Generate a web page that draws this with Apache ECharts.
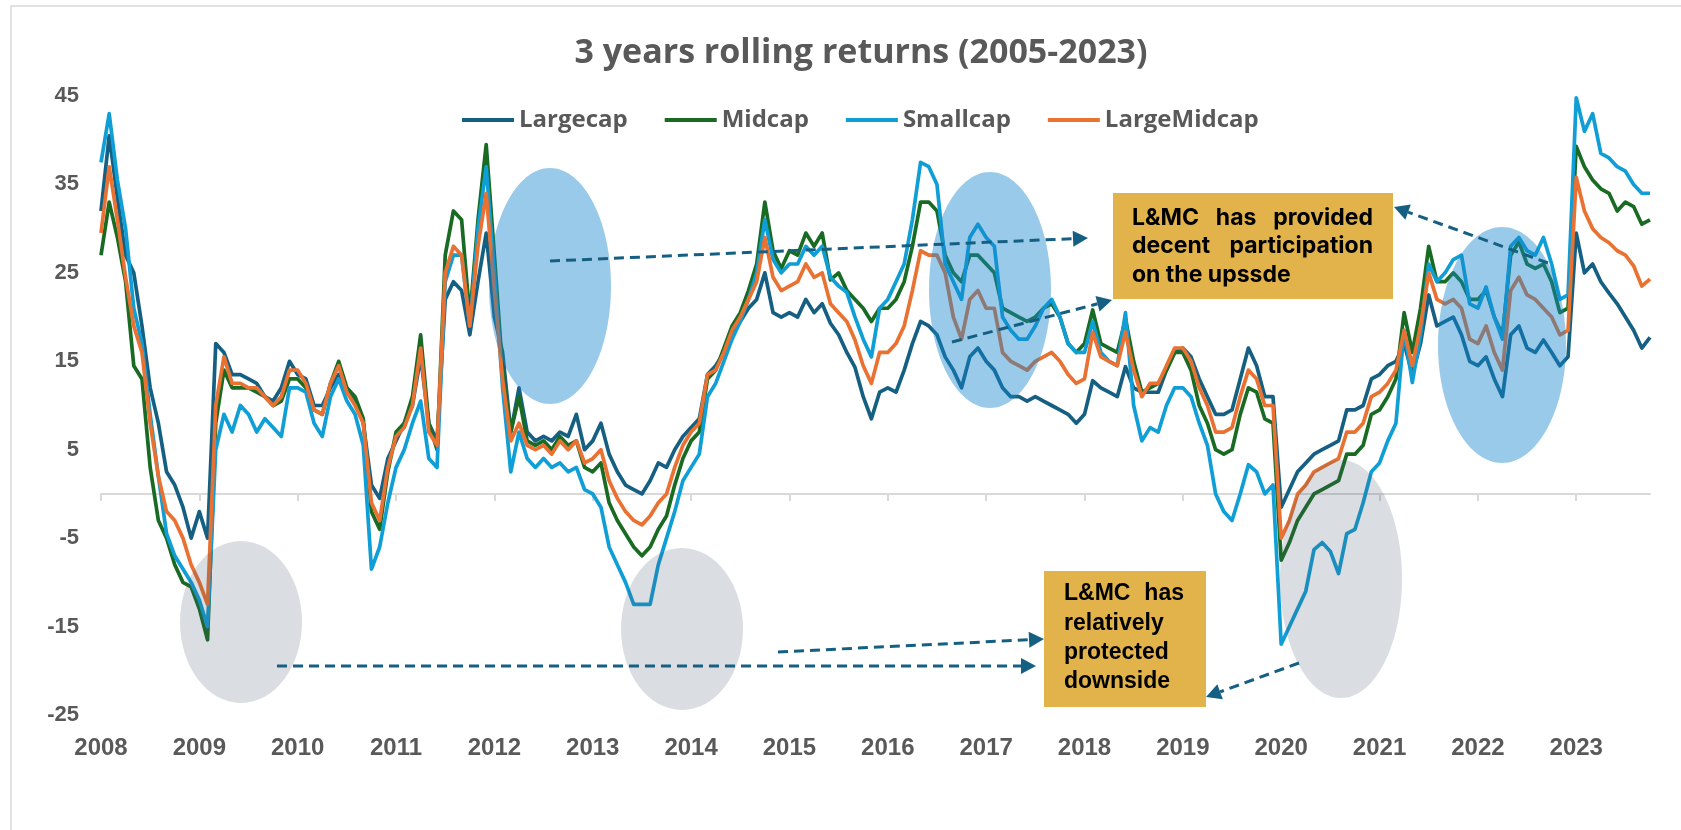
<!DOCTYPE html>
<html>
<head>
<meta charset="utf-8">
<title>3 years rolling returns</title>
<script src="https://cdn.jsdelivr.net/npm/echarts@6/dist/echarts.min.js"></script>
<style>
  html, body { margin: 0; padding: 0; background: #fff; }
  #chart { width: 1681px; height: 830px; }
</style>
</head>
<body>
<div id="chart"></div>
<script>
// monthly points, Jan 2008 .. Oct 2023
const months = [];
for (let y = 2008; y <= 2023; y++) {
  for (let m = 1; m <= 12; m++) {
    if (y === 2023 && m > 10) break;
    months.push(y + '-' + String(m).padStart(2, '0'));
  }
}

const seriesNames = ['Largecap', 'Midcap', 'Smallcap', 'LargeMidcap'];
const seriesColors = ['#156082', '#196B24', '#0F9ED5', '#E97132'];

// 3y rolling return (%), one row per year
const largecap = [
  32, 40.5, 33.5, 27, 25, 19, 12, 8, 2.5, 1, -1.5, -5,
  -2, -5, 17, 16, 13.5, 13.5, 13, 12.5, 11, 10.5, 12, 15,
  13.5, 13, 10, 10, 12, 13.5, 11.5, 10.5, 8, 1, -0.5, 4,
  6, 8, 10, 15.5, 8, 6, 22, 24, 23, 18, 24, 29.5,
  20, 16, 7, 12, 7, 6, 6.5, 6, 7, 6.5, 9, 5,
  6, 8, 4.5, 2.5, 1, 0.5, 0, 1.5, 3.5, 3, 5, 6.5,
  7.5, 8.5, 13.5, 14.5, 16, 18, 19.5, 21, 22, 25, 20.5, 20,
  20.5, 20, 22, 20.5, 21.5, 19.3, 18, 16, 14.3, 11, 8.5, 11.5,
  12, 11.5, 14, 17, 19.5, 19, 18, 15.5, 14, 12, 15.5, 16.5,
  15, 14, 12, 11, 11, 10.5, 11, 10.5, 10, 9.5, 9, 8,
  9, 12.8, 12, 11.5, 11, 14.4, 12, 11.5, 11.5, 11.5, 14, 16,
  16.5, 15.5, 13, 11, 9, 9, 9.5, 13, 16.5, 14.5, 11, 11,
  -1.5, 0.5, 2.5, 3.5, 4.5, 5, 5.5, 6, 9.5, 9.5, 10, 13,
  13.5, 14.5, 15, 17, 13.5, 17, 22.5, 19, 19.5, 20, 18, 15,
  14.5, 15.5, 13, 11, 18, 19, 16.5, 16, 17.4, 16, 14.5, 15.5,
  29.5, 25, 26, 24, 22.7, 21.5, 20, 18.5, 16.5, 17.7
];
const midcap = [
  27, 33, 29, 24, 14.5, 13, 3, -3, -5, -8, -10, -10.5,
  -13, -16.5, 8, 14, 12, 12, 12, 11.5, 11, 10, 10.5, 13,
  13, 12, 9.5, 9, 12.5, 15, 12, 11, 8.5, -2, -4, 2.5,
  7, 8, 11, 18, 8, 5, 27, 32, 31, 20, 31, 39.5,
  27, 14, 7, 11, 6, 5.5, 6, 5, 6.5, 5.5, 6, 3,
  2.5, 3.5, -1, -3, -4.5, -6, -7, -6, -4, -2.5, 1, 4,
  6, 7, 13, 14, 16.5, 19, 20.5, 23, 26, 33, 27.5, 25.5,
  27.5, 27, 29.5, 28, 29.5, 24.2, 25, 23, 22, 21, 19.5, 21,
  21, 22, 24, 28, 33, 33, 32, 27, 25, 24, 27, 27,
  26, 25, 21, 20.5, 20, 19.5, 20, 21, 21.5, 20, 17, 16,
  17, 20.8, 17, 16.5, 16, 19.8, 15, 11.5, 12, 12.5, 14, 16,
  16, 14, 10, 8, 5, 4.5, 5, 9, 12, 11.5, 8.5, 8,
  -7.5, -5.5, -3, -1.5, 0, 0.5, 1, 1.5, 4.5, 4.5, 5.5, 9,
  9.5, 11, 13, 20.5, 16, 21, 28, 24, 24, 25, 24, 22,
  22, 23, 20, 18, 27, 28.5, 26, 25.5, 26, 24, 20.5, 21,
  39.3, 37, 35.5, 34.5, 34, 32, 33, 32.5, 30.5, 31
];
const smallcap = [
  37.5, 43, 35.5, 30, 21, 17, 9, 2, -4.5, -7, -8.5, -10,
  -12, -15, 5, 9, 7, 10, 9, 7, 8.5, 7.5, 6.5, 12,
  12, 11.5, 8, 6.5, 11, 13, 10.5, 9, 5.5, -8.5, -6, -1,
  3, 5, 8, 10.5, 4, 3, 24, 27, 27, 19, 30, 37,
  25, 12, 2.5, 7, 4, 3, 4, 3, 3.5, 2.5, 3, 0.5,
  0, -1.5, -6, -8, -10, -12.5, -12.5, -12.5, -8, -5, -2, 1.5,
  3, 4.5, 11, 12.5, 15, 17.5, 19.5, 22, 25, 31, 26.5, 25,
  26, 26, 28, 27, 28, 24.5, 23.5, 22.8, 20, 17.5, 15.5, 21,
  22, 24, 26, 31, 37.5, 37, 35, 26, 24, 22, 29, 30.5,
  29, 28, 20, 18.5, 17.5, 17.5, 19, 21, 22, 20, 17, 16,
  16, 19.5, 16, 15, 14.5, 20.5, 10, 6, 7.5, 7, 10, 12,
  12, 11, 8, 5.5, 0, -2, -3, 0, 3.3, 2.5, 0, 1,
  -17, -15, -13, -11, -6.3, -5.5, -6.5, -9, -4.5, -4, -1, 2.5,
  3.5, 6, 8, 18.5, 12.6, 18, 26, 24, 25, 26.5, 27, 21.5,
  21, 23.4, 20, 17.5, 28, 29, 27.5, 27, 29, 26, 22, 22.5,
  44.8, 41, 43, 38.5, 38, 37, 36.5, 35, 34, 34
];
const largeMidcap = [
  29.5, 37, 31, 24.5, 19, 16, 8, 2, -2, -3, -5, -8,
  -10, -12.5, 10, 15.5, 12.5, 12.5, 12, 12, 11, 10, 11, 14,
  14, 12.5, 9.5, 9, 12.5, 14.5, 11.5, 10, 8, -1, -3, 3,
  6.5, 7.5, 10, 16.5, 7, 5.5, 25, 28, 27, 19, 28, 34,
  23, 13, 6, 8, 5.5, 5, 5.5, 4.5, 6, 5, 6, 3.5,
  4, 5, 1.5, -0.5, -2, -3, -3.5, -2.5, -1, 0, 3, 5.5,
  7, 8, 13.5, 14, 16, 18.5, 20, 22, 24, 29, 24.5, 23,
  23.5, 24, 26, 24.5, 25, 21.5, 20.5, 19.5, 17.4, 14.5, 12.5, 16,
  16, 17, 19, 23, 27.5, 27, 27, 25, 20, 17.5, 22, 23,
  21, 21, 16, 15, 14.5, 14, 15, 15.5, 16, 15, 13.5, 12.5,
  13, 18.3, 15.5, 15, 14.5, 18.3, 14, 11, 12.5, 12.5, 14.5, 16.5,
  16.5, 15, 12, 10, 7, 7, 7.5, 11, 14, 13, 10, 10,
  -5, -3, 0, 1, 2.5, 3, 3.5, 4, 7, 7, 8, 11,
  11.5, 12.5, 14, 18.5, 14.5, 19, 25, 22, 21.5, 22, 21, 17.5,
  17, 19, 16, 14, 23, 24.5, 22.5, 22, 21, 20, 18, 18.5,
  35.8, 32, 30, 29, 28.4, 27.5, 27, 25.8, 23.5, 24.3
];
const allSeries = [largecap, midcap, smallcap, largeMidcap];

const yMin = -25, yMax = 45, yStep = 10;

const chart = echarts.init(document.getElementById('chart'));

// ---- annotation helpers (pixel space) ----
const ARROW = '#156082';
function arrow(x1, y1, x2, y2) {
  const dx = x2 - x1, dy = y2 - y1;
  const len = Math.sqrt(dx * dx + dy * dy);
  const ux = dx / len, uy = dy / len;
  const hl = 15, hw = 8;
  const bx = x2 - ux * hl, by = y2 - uy * hl;
  return [
    { type: 'line', z: 60, shape: { x1: x1, y1: y1, x2: bx, y2: by },
      style: { stroke: ARROW, lineWidth: 3, lineDash: [10, 6] } },
    { type: 'polygon', z: 60,
      shape: { points: [[x2, y2], [bx - uy * hw, by + ux * hw], [bx + uy * hw, by - ux * hw]] },
      style: { fill: ARROW } }
  ];
}
function ellipse(cx, cy, rx, ry, fill) {
  return { type: 'ellipse', z: 50, shape: { cx: cx, cy: cy, rx: rx, ry: ry }, style: { fill: fill } };
}
const measure = document.createElement('canvas').getContext('2d');
function textLine(words, left, right, y, font, justify) {
  measure.font = font;
  const widths = words.map(w => measure.measureText(w).width);
  const total = widths.reduce((a, b) => a + b, 0);
  const gap = justify && words.length > 1 ? (right - left - total) / (words.length - 1) : measure.measureText(' ').width;
  let x = left;
  return words.map((w, i) => {
    const el = { type: 'text', z: 80, x: x, y: y,
      style: { text: w, font: font, fill: '#000', textAlign: 'left', textVerticalAlign: 'middle' } };
    x += widths[i] + gap;
    return el;
  });
}

const BLUE = 'rgba(21,131,206,0.43)';
const GREY = 'rgba(68,84,106,0.2)';
const GOLD = '#E2B34A';
const fontA = 'bold 23px Inter';
const fontB = 'bold 23px "Liberation Sans"';

const graphics = [
  { type: 'rect', z: 1, shape: { x: 11, y: 6, width: 1700, height: 900 },
    style: { fill: 'none', stroke: '#d9d9d9', lineWidth: 1.5 } },
  ellipse(550, 286, 61, 118, BLUE),
  ellipse(990, 290, 61, 118, BLUE),
  ellipse(1502, 345, 64, 118, BLUE),
  ellipse(241, 622, 61, 81, GREY),
  ellipse(682, 629, 61, 81, GREY),
  ellipse(1341, 579, 61, 119, GREY),
  { type: 'rect', z: 70, shape: { x: 1113, y: 193, width: 280, height: 106 }, style: { fill: GOLD } },
  { type: 'rect', z: 70, shape: { x: 1044, y: 571, width: 162, height: 136 }, style: { fill: GOLD } }
]
  .concat(arrow(550, 261, 1088, 238))
  .concat(arrow(952, 342, 1112, 300))
  .concat(arrow(1548, 263, 1394, 207))
  .concat(arrow(277, 666, 1036, 666))
  .concat(arrow(778, 652, 1044, 639))
  .concat(arrow(1299, 663, 1206, 697))
  .concat(textLine(['L&MC', 'has', 'provided'], 1132, 1373, 218, fontA, true))
  .concat(textLine(['decent', 'participation'], 1132, 1373, 246, fontA, true))
  .concat(textLine(['on', 'the', 'upssde'], 1132, 1373, 275, fontA, false))
  .concat(textLine(['L&MC', 'has'], 1064, 1184, 594, fontB, true))
  .concat(textLine(['relatively'], 1064, 1184, 624, fontB, false))
  .concat(textLine(['protected'], 1064, 1184, 653, fontB, false))
  .concat(textLine(['downside'], 1064, 1184, 682, fontB, false));

const isYearStart = (i) => i % 12 === 0;

chart.setOption({
  animation: false,
  backgroundColor: '#fff',
  title: {
    text: '3 years rolling returns (2005-2023)',
    left: 856, top: 31, textAlign: 'center',
    textStyle: { fontFamily: 'Open Sans', fontSize: 34, fontWeight: 'bold', color: '#595959' }
  },
  legend: {
    data: seriesNames,
    left: 457, top: 103,
    icon: 'rect', itemWidth: 52, itemHeight: 4, itemGap: 37,
    textStyle: { fontFamily: 'Open Sans', fontSize: 24, fontWeight: 'bold', color: '#595959', lineHeight: 24 }
  },
  grid: { left: 101, right: 31, top: 96, bottom: 115, containLabel: false },
  xAxis: [
    {
      type: 'category', data: months, boundaryGap: false, position: 'bottom',
      axisLine: { show: false, onZero: false },
      axisTick: { show: false },
      axisLabel: {
        interval: isYearStart, margin: 21,
        formatter: (v) => v.slice(0, 4),
        fontFamily: 'Liberation Sans', fontSize: 24, fontWeight: 'bold', color: '#595959'
      },
      splitLine: { show: false }
    },
    {
      type: 'category', data: months, boundaryGap: false, position: 'bottom',
      axisLine: { show: true, onZero: true, lineStyle: { color: '#d9d9d9', width: 2 } },
      axisTick: { show: true, interval: isYearStart, length: 7, lineStyle: { color: '#d9d9d9', width: 2 } },
      axisLabel: { show: false },
      splitLine: { show: false }
    }
  ],
  yAxis: {
    type: 'value', min: yMin, max: yMax, interval: yStep,
    axisLine: { show: false }, axisTick: { show: false }, splitLine: { show: false },
    axisLabel: { margin: 22, fontFamily: 'Liberation Sans', fontSize: 22, fontWeight: 'bold', color: '#595959' }
  },
  series: allSeries.map((d, k) => ({
    name: seriesNames[k], type: 'line', data: d, xAxisIndex: 0,
    showSymbol: false, symbol: 'none', smooth: false,
    lineStyle: { color: seriesColors[k], width: 3.7, join: 'round' },
    itemStyle: { color: seriesColors[k] },
    z: 2 + k
  })),
  graphic: { elements: graphics }
});
</script>
</body>
</html>
